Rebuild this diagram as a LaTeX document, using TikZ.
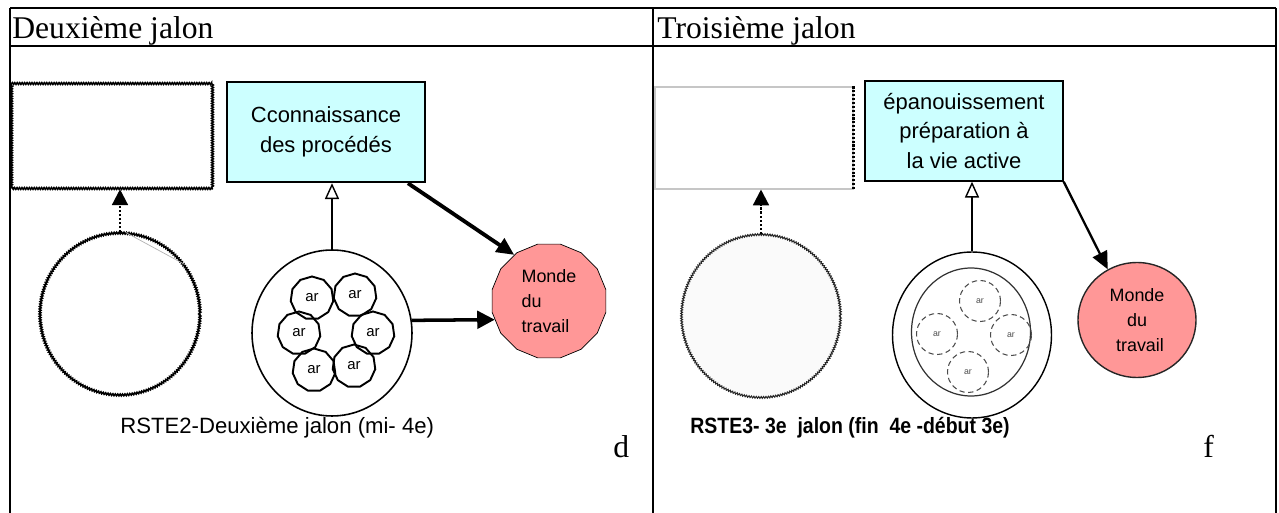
\documentclass[tikz,border=0pt]{standalone}
\usepackage{fontspec}
\setmainfont{Liberation Serif}
\setsansfont{Liberation Sans}
\usetikzlibrary{
  arrows.meta, % pointes de fleches
  shapes.geometric, % ellipses et polygones
  decorations.pathmorphing % bords dentelés
}
\definecolor{cyanpale}{HTML}{CCFFFF}
\definecolor{saumon}{HTML}{FF9797}

\begin{document}
\begin{tikzpicture}[
    x=0.02cm, y=-0.02cm, % 1 unité = 1 pixel
    >=Triangle,
    cadre/.style={line width=1.6pt},
    filet/.style={line width=1.1pt},
    jag/.style={decorate, decoration={zigzag, segment length=1.4pt, amplitude=0.5pt}},
    boite/.style={draw, line width=1.4pt, fill=cyanpale, align=center,
      minimum width=3.96cm, minimum height=2cm,
      font=\sffamily\fontsize{12.5}{17}\selectfont},
    monde/.style={draw, fill=saumon, inner sep=0pt,
      font=\sffamily\fontsize{10.2}{14.2}\selectfont},
    petit/.style={draw, regular polygon, regular polygon sides=11, line width=1.1pt,
      minimum size=0.86cm, inner sep=0pt, font=\sffamily\fontsize{8.5}{9}\selectfont},
    pointille/.style={draw, circle, densely dashed, black!70, line width=0.6pt,
      minimum size=0.82cm, inner sep=0pt, font=\sffamily\fontsize{5}{5}\selectfont},
  ]
  \useasboundingbox (0,0) rectangle (1279,513);

  % Tableau
  \draw[cadre] (10,8) -- (1276,8);
  \draw[cadre] (10,46) -- (1276,46);
  \foreach \x in {10, 653, 1276}
  \draw[filet] (\x,8) -- (\x,513);
  \node[anchor=base west, inner sep=0pt, font=\fontsize{18}{20}\selectfont] (titreA) at (12,39) {Deuxième jalon};
  \node[anchor=base west, inner sep=0pt, font=\fontsize{18}{20}\selectfont] (titreB) at (657,39) {Troisième jalon};

  % Deuxième jalon
  \node[draw, jag, line width=0.9pt, minimum width=4.02cm, minimum height=2.1cm] (videA) at (112,136) {};
  \node[draw, jag, ellipse, line width=0.9pt, minimum width=3.2cm, minimum height=3.24cm] (rondA) at (120,314) {};
  \draw[gray!60, thin] (rondA.86) -- (rondA.38);
  \draw[densely dotted, line width=1.3pt, -{Triangle[length=9pt, width=9pt]}] (rondA.north) -- (rondA.north |- videA.south);

  \node[boite] (conn) at (326,132) {Cconnaissance\\des procédés};
  \node[draw, ellipse, line width=0.9pt, minimum width=3.2cm, minimum height=3.32cm] (grand) at (332,333) {};
  \foreach \n/\px/\py in {1/312/298, 2/355/295, 3/299/333, 4/373/333, 5/314/370, 6/354/366}
  \node[petit] (ar\n) at (\px,\py) {ar};
  \node[monde, regular polygon, regular polygon sides=16, minimum size=2.32cm, align=left] (mondeA) at (549,301) {Monde\\du\\travail};

  \draw[line width=0.8pt, -{Triangle[open, length=9pt, width=8pt]}] (grand.north) -- (grand.north |- conn.south);
  \draw[line width=2.2pt, -{Triangle[length=10pt, width=9pt]}] (conn.-32) -- (mondeA.127);
  \draw[line width=2pt, -{Triangle[length=10pt, width=10pt]}] (grand.9) -- (mondeA.199);

  \node[anchor=base west, inner sep=0pt, font=\sffamily\fontsize{12.6}{14}\selectfont] (legA) at (120,434) {RSTE2-Deuxième jalon (mi- 4e)};
  \node[anchor=base west, inner sep=0pt, font=\fontsize{18}{20}\selectfont] (lettreA) at (613,458) {d};

  % Troisième jalon
  \node[draw=gray!45, line width=0.6pt, minimum width=3.96cm, minimum height=2.04cm] (videB) at (754,138) {};
  \draw[densely dotted, line width=1.2pt] (videB.north east) -- (videB.south east);
  \node[draw=black!85, jag, ellipse, line width=0.6pt, fill=black!2, minimum width=3.18cm, minimum height=3.26cm] (rondB) at (761,316) {};
  \draw[densely dotted, line width=1.3pt, -{Triangle[length=9pt, width=9pt]}] (rondB.north) -- (rondB.north |- videB.south);

  \node[boite, line width=0.8pt] (epan) at (964,131) {épanouissement\\préparation à\\la vie active};
  \node[draw, ellipse, line width=0.8pt, minimum width=3.18cm, minimum height=3.32cm] (anneau) at (972,335) {};
  \node[draw=black!80, ellipse, line width=0.7pt, minimum width=2.38cm, minimum height=2.56cm] (cercle) at (971,332) {};
  \foreach \n/\px/\py in {1/980/301, 2/937/334, 3/1011/335, 4/968/372}
  \node[pointille] (arB\n) at (\px,\py) {ar};
  \node[monde, ellipse, draw=black!85, line width=0.8pt, minimum width=2.36cm, minimum height=2.3cm, align=center] (mondeB) at (1137,320) {Monde\\du\\\,\,travail};

  \draw[line width=0.8pt, -{Triangle[open, length=9pt, width=8pt]}] (anneau.north) -- (anneau.north |- epan.south);
  \draw[line width=1.3pt, -{Triangle[length=10pt, width=9pt]}] (epan.south east) -- (mondeB.120);

  \node[anchor=base west, inner sep=0pt, font=\sffamily\bfseries\fontsize{12.6}{14}\selectfont\addfontfeature{FakeStretch=0.88}] (legB) at (690,434) {RSTE3- 3e\ \ jalon (fin\ \ 4e -début 3e)};
  \node[anchor=base west, inner sep=0pt, font=\fontsize{18}{20}\selectfont] (lettreB) at (1203,458) {f};
\end{tikzpicture}
\end{document}
